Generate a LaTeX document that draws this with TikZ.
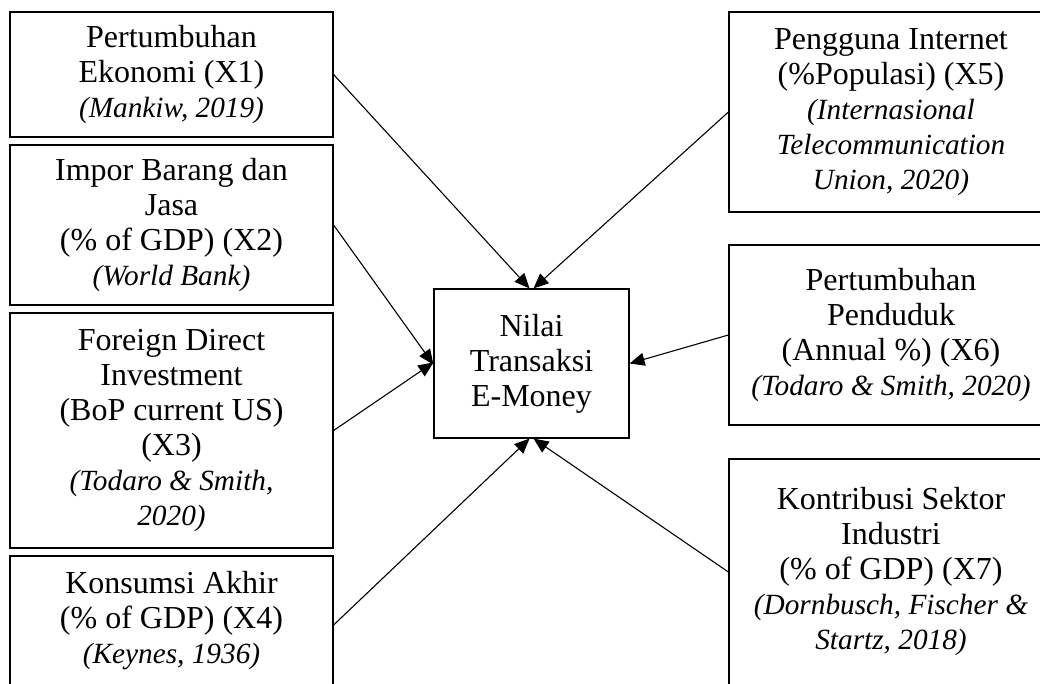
\documentclass[tikz,border=0pt]{standalone}
\usepackage{fontspec}
\setmainfont{Liberation Serif}
\usetikzlibrary{arrows.meta}
\newcommand{\citx}[1]{{\fontsize{29.3}{35}\selectfont\itshape #1}}
\begin{document}
\begin{tikzpicture}[x=1pt,y=-1pt,
  box/.style={draw, line width=1.2pt, align=center, inner sep=0pt,
    font=\fontsize{32}{35}\selectfont},
  arr/.style={-{Triangle[length=15pt,width=13pt]}, line width=1.1pt}]
\useasboundingbox (0,0) rectangle (1040,683);
\fill[white] (0,0) rectangle (1040,683);
% left column
\node[box, minimum width=323pt, minimum height=125pt] (x1) at (171.5,74.5)
  {Pertumbuhan\\Ekonomi (X1)\\\citx{(Mankiw, 2019)}};
\node[box, minimum width=323pt, minimum height=160pt] (x2) at (171.5,225)
  {Impor Barang dan\\Jasa\\(\% of GDP) (X2)\\\citx{(World Bank)}};
\node[box, minimum width=323pt, minimum height=235pt] (x3) at (171.5,430.5)
  {Foreign Direct\\Investment\\(BoP current US)\\(X3)\\\citx{(Todaro \& Smith,}\\\citx{2020)}};
\node[box, minimum width=323pt, minimum height=130pt] (x4) at (171.5,621)
  {Konsumsi Akhir\\(\% of GDP) (X4)\\\citx{(Keynes, 1936)}};
% right column
\node[box, minimum width=324pt, minimum height=200pt] (x5) at (891,112)
  {Pengguna Internet\\(\%Populasi) (X5)\\\citx{(Internasional}\\\citx{Telecommunication}\\\citx{Union, 2020)}};
\node[box, minimum width=324pt, minimum height=180pt] (x6) at (891,335)
  {Pertumbuhan\\Penduduk\\(Annual \%) (X6)\\\citx{(Todaro \& Smith, 2020)}};
\node[box, minimum width=324pt, minimum height=226pt] (x7) at (891,572)
  {Kontribusi Sektor\\Industri\\(\% of GDP) (X7)\\\citx{(Dornbusch, Fischer \&}\\\citx{Startz, 2018)}};
% centre
\node[box, minimum width=195pt, minimum height=149pt] (c) at (531.5,363.5)
  {Nilai\\Transaksi\\E-Money};
% connectors
\draw[arr] (x1.east) -- ([xshift=-2pt]c.north);
\draw[arr] (x5.west) -- ([xshift=2pt]c.north);
\draw[arr] (x2.east) -- ([yshift=-1pt]c.west);
\draw[arr] (x3.east) -- ([yshift=1pt]c.west);
\draw[arr] (x6.west) -- (c.east);
\draw[arr] ([yshift=-4pt]x4.east) -- ([xshift=-2pt]c.south);
\draw[arr] (x7.west) -- ([xshift=2pt]c.south);
\end{tikzpicture}
\end{document}
